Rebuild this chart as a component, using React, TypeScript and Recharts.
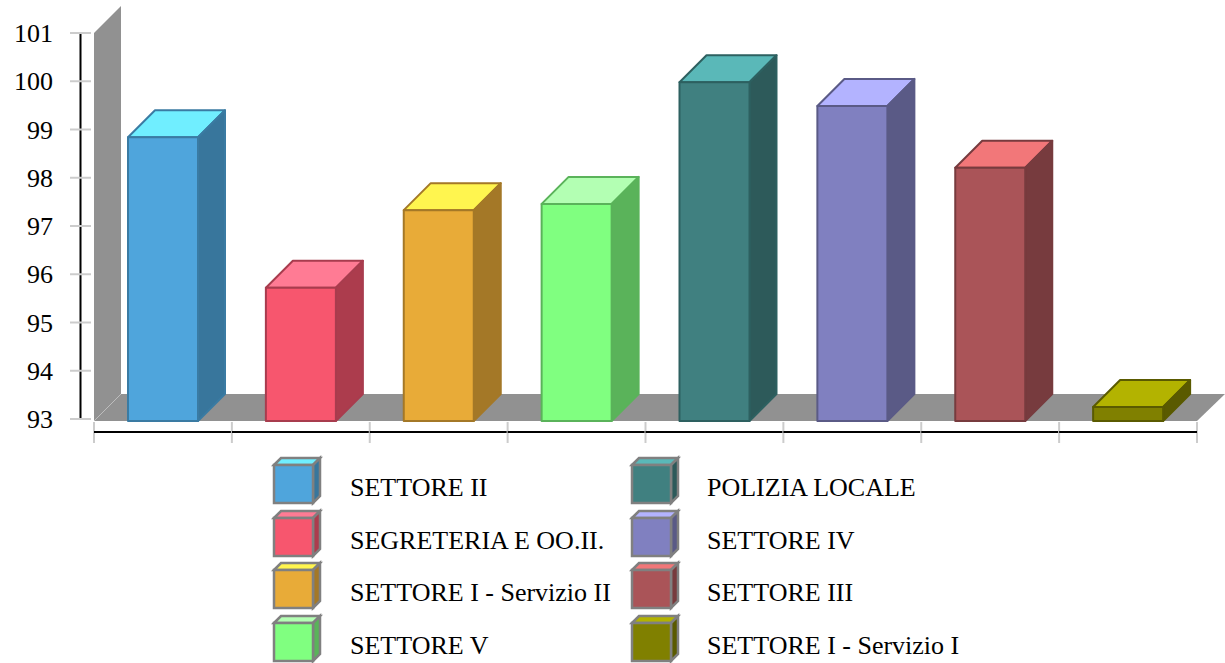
import React from 'react';
import { BarChart, Bar, XAxis, YAxis } from 'recharts';

const categories = [
  'SETTORE II',
  'SEGRETERIA E OO.II.',
  'SETTORE I - Servizio II',
  'SETTORE V',
  'POLIZIA LOCALE',
  'SETTORE IV',
  'SETTORE III',
  'SETTORE I - Servizio I',
];
const values = [98.88, 95.76, 97.37, 97.5, 100.02, 99.53, 98.25, 93.29];
const yTicks = [93, 94, 95, 96, 97, 98, 99, 100, 101];

const frontColors = ['#4fa5dc', '#f7566e', '#e8ab38', '#80ff80', '#408080', '#8080c0', '#aa5458', '#808000'];
const topColors = ['#70eeff', '#ff7b94', '#fff54f', '#b3ffb3', '#5ab8b8', '#b3b3ff', '#f27779', '#b3b300'];
const sideColors = ['#38769c', '#ac3c4d', '#a47827', '#5ab35a', '#2d5a5a', '#5a5a86', '#773b3e', '#5a5a00'];
const edgeColors = ['#3a7ba3', '#a83c4e', '#a47827', '#5ab35a', '#2d6060', '#5a5a86', '#773b3e', '#5a5a00'];

const WIDTH = 1225;
const HEIGHT = 663;
const LEFT = 94;
const RIGHT = 1197;
const TOP = 35;
const BOTTOM = 421;
const DEPTH = 27;
const BAND = (RIGHT - LEFT) / categories.length;
const FONT = '"Liberation Serif", serif';
const WALL = '#919191';
const TICK = '#cccccc';

const data = categories.map((name, i) => ({ name, value: values[i] }));

const Backdrop = () => (
  <g>
    <polygon
      points={`${LEFT},${TOP - 2} ${LEFT + DEPTH},${TOP - 2 - DEPTH} ${LEFT + DEPTH},${BOTTOM - DEPTH} ${LEFT},${BOTTOM}`}
      fill={WALL}
    />
    <polygon
      points={`${LEFT},${BOTTOM} ${LEFT + DEPTH},${BOTTOM - DEPTH} ${RIGHT + 28},${BOTTOM - DEPTH} ${RIGHT},${BOTTOM}`}
      fill={WALL}
    />
    <line x1={LEFT} y1={BOTTOM} x2={LEFT + DEPTH} y2={BOTTOM - DEPTH} stroke="#bdbdbd" />
    <line x1={80.5} y1={TOP - 2} x2={80.5} y2={BOTTOM - 2} stroke="#000" strokeWidth={2} />
  </g>
);

const YTick = (props: any) => {
  const y = props.y - 2;
  return (
    <g>
      <line x1={70} x2={91} y1={y} y2={y} stroke={TICK} strokeWidth={2} />
      <text x={53} y={y + 9} textAnchor="end" fontFamily={FONT} fontSize={26} fill="#000">
        {props.payload.value}
      </text>
    </g>
  );
};

const XTick = (props: any) => {
  const left = props.x - BAND / 2;
  const right = props.x + BAND / 2;
  return (
    <g>
      <line x1={left} x2={left} y1={BOTTOM + 1} y2={443} stroke={TICK} strokeWidth={2} />
      {props.index === categories.length - 1 && (
        <line x1={right} x2={right} y1={BOTTOM + 1} y2={443} stroke={TICK} strokeWidth={2} />
      )}
      <line x1={left} x2={right} y1={432} y2={432} stroke="#000" strokeWidth={2} />
    </g>
  );
};

const Box = (props: any) => {
  const { x, y, width, height, index } = props;
  const r = x + width;
  const b = y + height;
  return (
    <g strokeWidth={2} strokeLinejoin="round">
      <polygon
        points={`${x},${y} ${x + DEPTH},${y - DEPTH} ${r + DEPTH},${y - DEPTH} ${r},${y}`}
        fill={topColors[index]}
        stroke={edgeColors[index]}
      />
      <polygon
        points={`${r},${y} ${r + DEPTH},${y - DEPTH} ${r + DEPTH},${b - DEPTH} ${r},${b}`}
        fill={sideColors[index]}
        stroke={edgeColors[index]}
      />
      <rect x={x} y={y} width={width} height={height} fill={frontColors[index]} stroke={edgeColors[index]} />
    </g>
  );
};

const legendRows = [465, 518, 570, 623];

const LegendBoxes = () => (
  <g>
    {categories.map((name, i) => {
      const x = i < 4 ? 274 : 632;
      const y = legendRows[i % 4];
      const w = 39;
      const h = 38;
      const d = 7;
      return (
        <g key={name}>
          <g stroke="#808080" strokeWidth={2.5}>
            <polygon points={`${x},${y} ${x + d},${y - d} ${x + w + d},${y - d} ${x + w},${y}`} fill={topColors[i]} />
            <polygon points={`${x + w},${y} ${x + w + d},${y - d} ${x + w + d},${y + h - d} ${x + w},${y + h}`} fill={sideColors[i]} />
            <rect x={x} y={y} width={w} height={h} fill={frontColors[i]} />
          </g>
          <text x={i < 4 ? 350 : 707} y={y + 31} fontFamily={FONT} fontSize={26} fill="#000">
            {name}
          </text>
        </g>
      );
    })}
  </g>
);

export default function App() {
  return (
    <div style={{ position: 'absolute', left: 0, top: 0, width: WIDTH, height: HEIGHT, background: '#fff' }}>
      <BarChart
        width={WIDTH}
        height={HEIGHT}
        data={data}
        margin={{ top: TOP, right: WIDTH - RIGHT, bottom: 0, left: 0 }}
      >
        <Backdrop />
        <XAxis
          dataKey="name"
          height={HEIGHT - BOTTOM}
          axisLine={false}
          tickLine={false}
          interval={0}
          tick={<XTick />}
        />
        <YAxis
          width={LEFT}
          domain={[93, 101]}
          ticks={yTicks}
          interval={0}
          axisLine={false}
          tickLine={false}
          tick={<YTick />}
        />
        <Bar dataKey="value" barSize={70} isAnimationActive={false} shape={<Box />} />
        <LegendBoxes />
      </BarChart>
    </div>
  );
}
